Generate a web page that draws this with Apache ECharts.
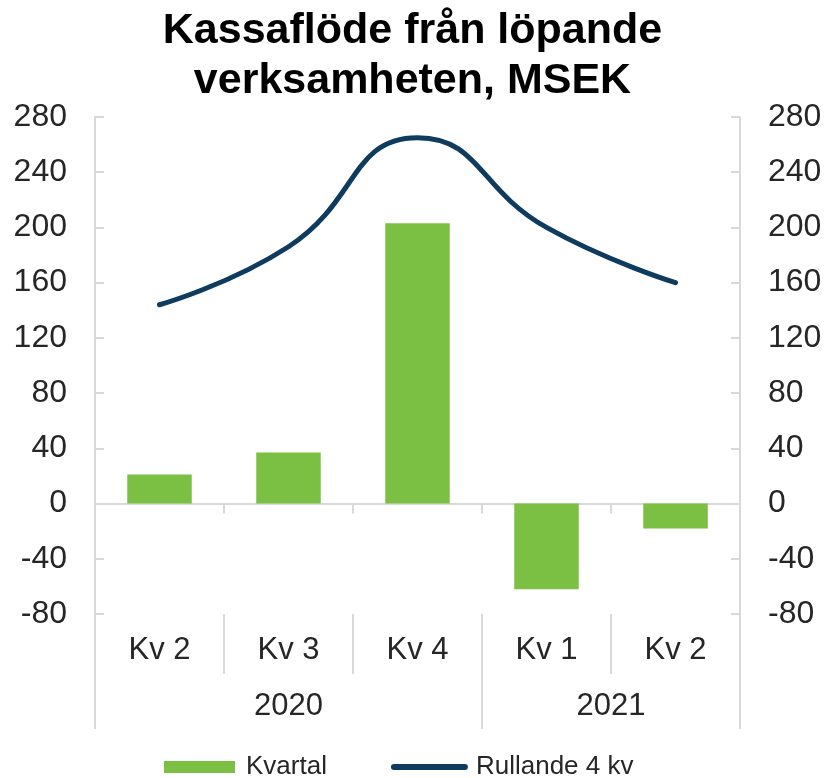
<!DOCTYPE html>
<html>
<head>
<meta charset="utf-8">
<script src="https://cdn.jsdelivr.net/npm/echarts@6/dist/echarts.min.js"></script>
<style>
  html, body { margin: 0; padding: 0; background: #fff; }
  #chart { width: 825px; height: 778px; }
</style>
</head>
<body>
<div id="chart"></div>
<script>
// data
const quarters = ['Kv 2', 'Kv 3', 'Kv 4', 'Kv 1', 'Kv 2']
const years = ['', '2020', '', '2021', '']
const kvartal = [21, 37, 203, -62, -18]
const rullande = [144, 186, 265, 200, 160]
const yTicks = { min: -80, max: 280, interval: 40 }

const gridColor = '#d9d9d9'
const textColor = '#262626'
const lineColor = '#0f3b5f'
const font = 'Liberation Sans, Arial, sans-serif'

const chart = echarts.init(document.getElementById('chart'))

const yAxisBase = {
  type: 'value',
  min: yTicks.min,
  max: yTicks.max,
  interval: yTicks.interval,
  axisLine: { show: true, lineStyle: { color: gridColor, width: 2 } },
  axisTick: { show: true, inside: true, length: 9, lineStyle: { color: gridColor, width: 2 } },
  splitLine: { show: false },
  axisLabel: { fontSize: 32, color: textColor, fontFamily: font, margin: 28 }
}

chart.setOption({
  animation: false,
  title: {
    text: 'Kassaflöde från löpande\nverksamheten, MSEK',
    left: 'center',
    top: 1,
    textStyle: { fontSize: 43, fontWeight: 'bold', lineHeight: 50, color: '#000', fontFamily: font }
  },
  grid: { left: 95, right: 85, top: 117, bottom: 164 },
  legend: {
    left: 164,
    top: 752,
    padding: 0,
    itemWidth: 71,
    itemHeight: 12,
    itemGap: 64,
    textStyle: { fontSize: 26, lineHeight: 30, color: textColor, fontFamily: font, padding: [0, 0, 0, 6] },
    data: [
      { name: 'Kvartal', icon: 'rect' },
      {
        name: 'Rullande 4 kv',
        itemStyle: { opacity: 0 },
        lineStyle: { width: 6, color: lineColor, cap: 'round' }
      }
    ]
  },
  xAxis: [
    {
      // quarter labels under the plot
      type: 'category',
      data: quarters,
      position: 'bottom',
      axisLine: { show: false, onZero: false },
      axisTick: { show: true, interval: 0, length: 60, lineStyle: { color: gridColor, width: 2 } },
      axisLabel: { interval: 0, fontSize: 31, color: textColor, fontFamily: font, margin: 21 }
    },
    {
      // year groups
      type: 'category',
      data: years,
      position: 'bottom',
      axisLine: { show: false, onZero: false },
      axisTick: {
        show: true,
        length: 115,
        interval: function (i) { return i === 0 || i === 3 },
        lineStyle: { color: gridColor, width: 2 }
      },
      axisLabel: {
        interval: 0,
        fontSize: 31,
        color: textColor,
        fontFamily: font,
        margin: 77,
        formatter: function (v) { return v === '2021' ? '{s|2021}' : v },
        rich: { s: { fontSize: 31, color: textColor, fontFamily: font, padding: [0, 0, 0, 129] } }
      }
    },
    {
      // zero line
      type: 'category',
      data: quarters,
      position: 'bottom',
      axisLine: { show: true, onZero: true, lineStyle: { color: gridColor, width: 2 } },
      axisTick: { show: true, interval: 0, length: 10, lineStyle: { color: gridColor, width: 2 } },
      axisLabel: { show: false }
    }
  ],
  yAxis: [
    Object.assign({ position: 'left' }, yAxisBase),
    Object.assign({ position: 'right' }, yAxisBase)
  ],
  series: [
    {
      name: 'Kvartal',
      type: 'bar',
      xAxisIndex: 0,
      yAxisIndex: 0,
      data: kvartal,
      barWidth: '50%',
      itemStyle: { color: '#7bc043' }
    },
    {
      name: 'Rullande 4 kv',
      type: 'line',
      xAxisIndex: 0,
      yAxisIndex: 1,
      data: rullande,
      smooth: 0.5,
      symbol: 'none',
      lineStyle: { color: lineColor, width: 5, cap: 'round' },
      itemStyle: { color: lineColor }
    }
  ]
})
</script>
</body>
</html>
